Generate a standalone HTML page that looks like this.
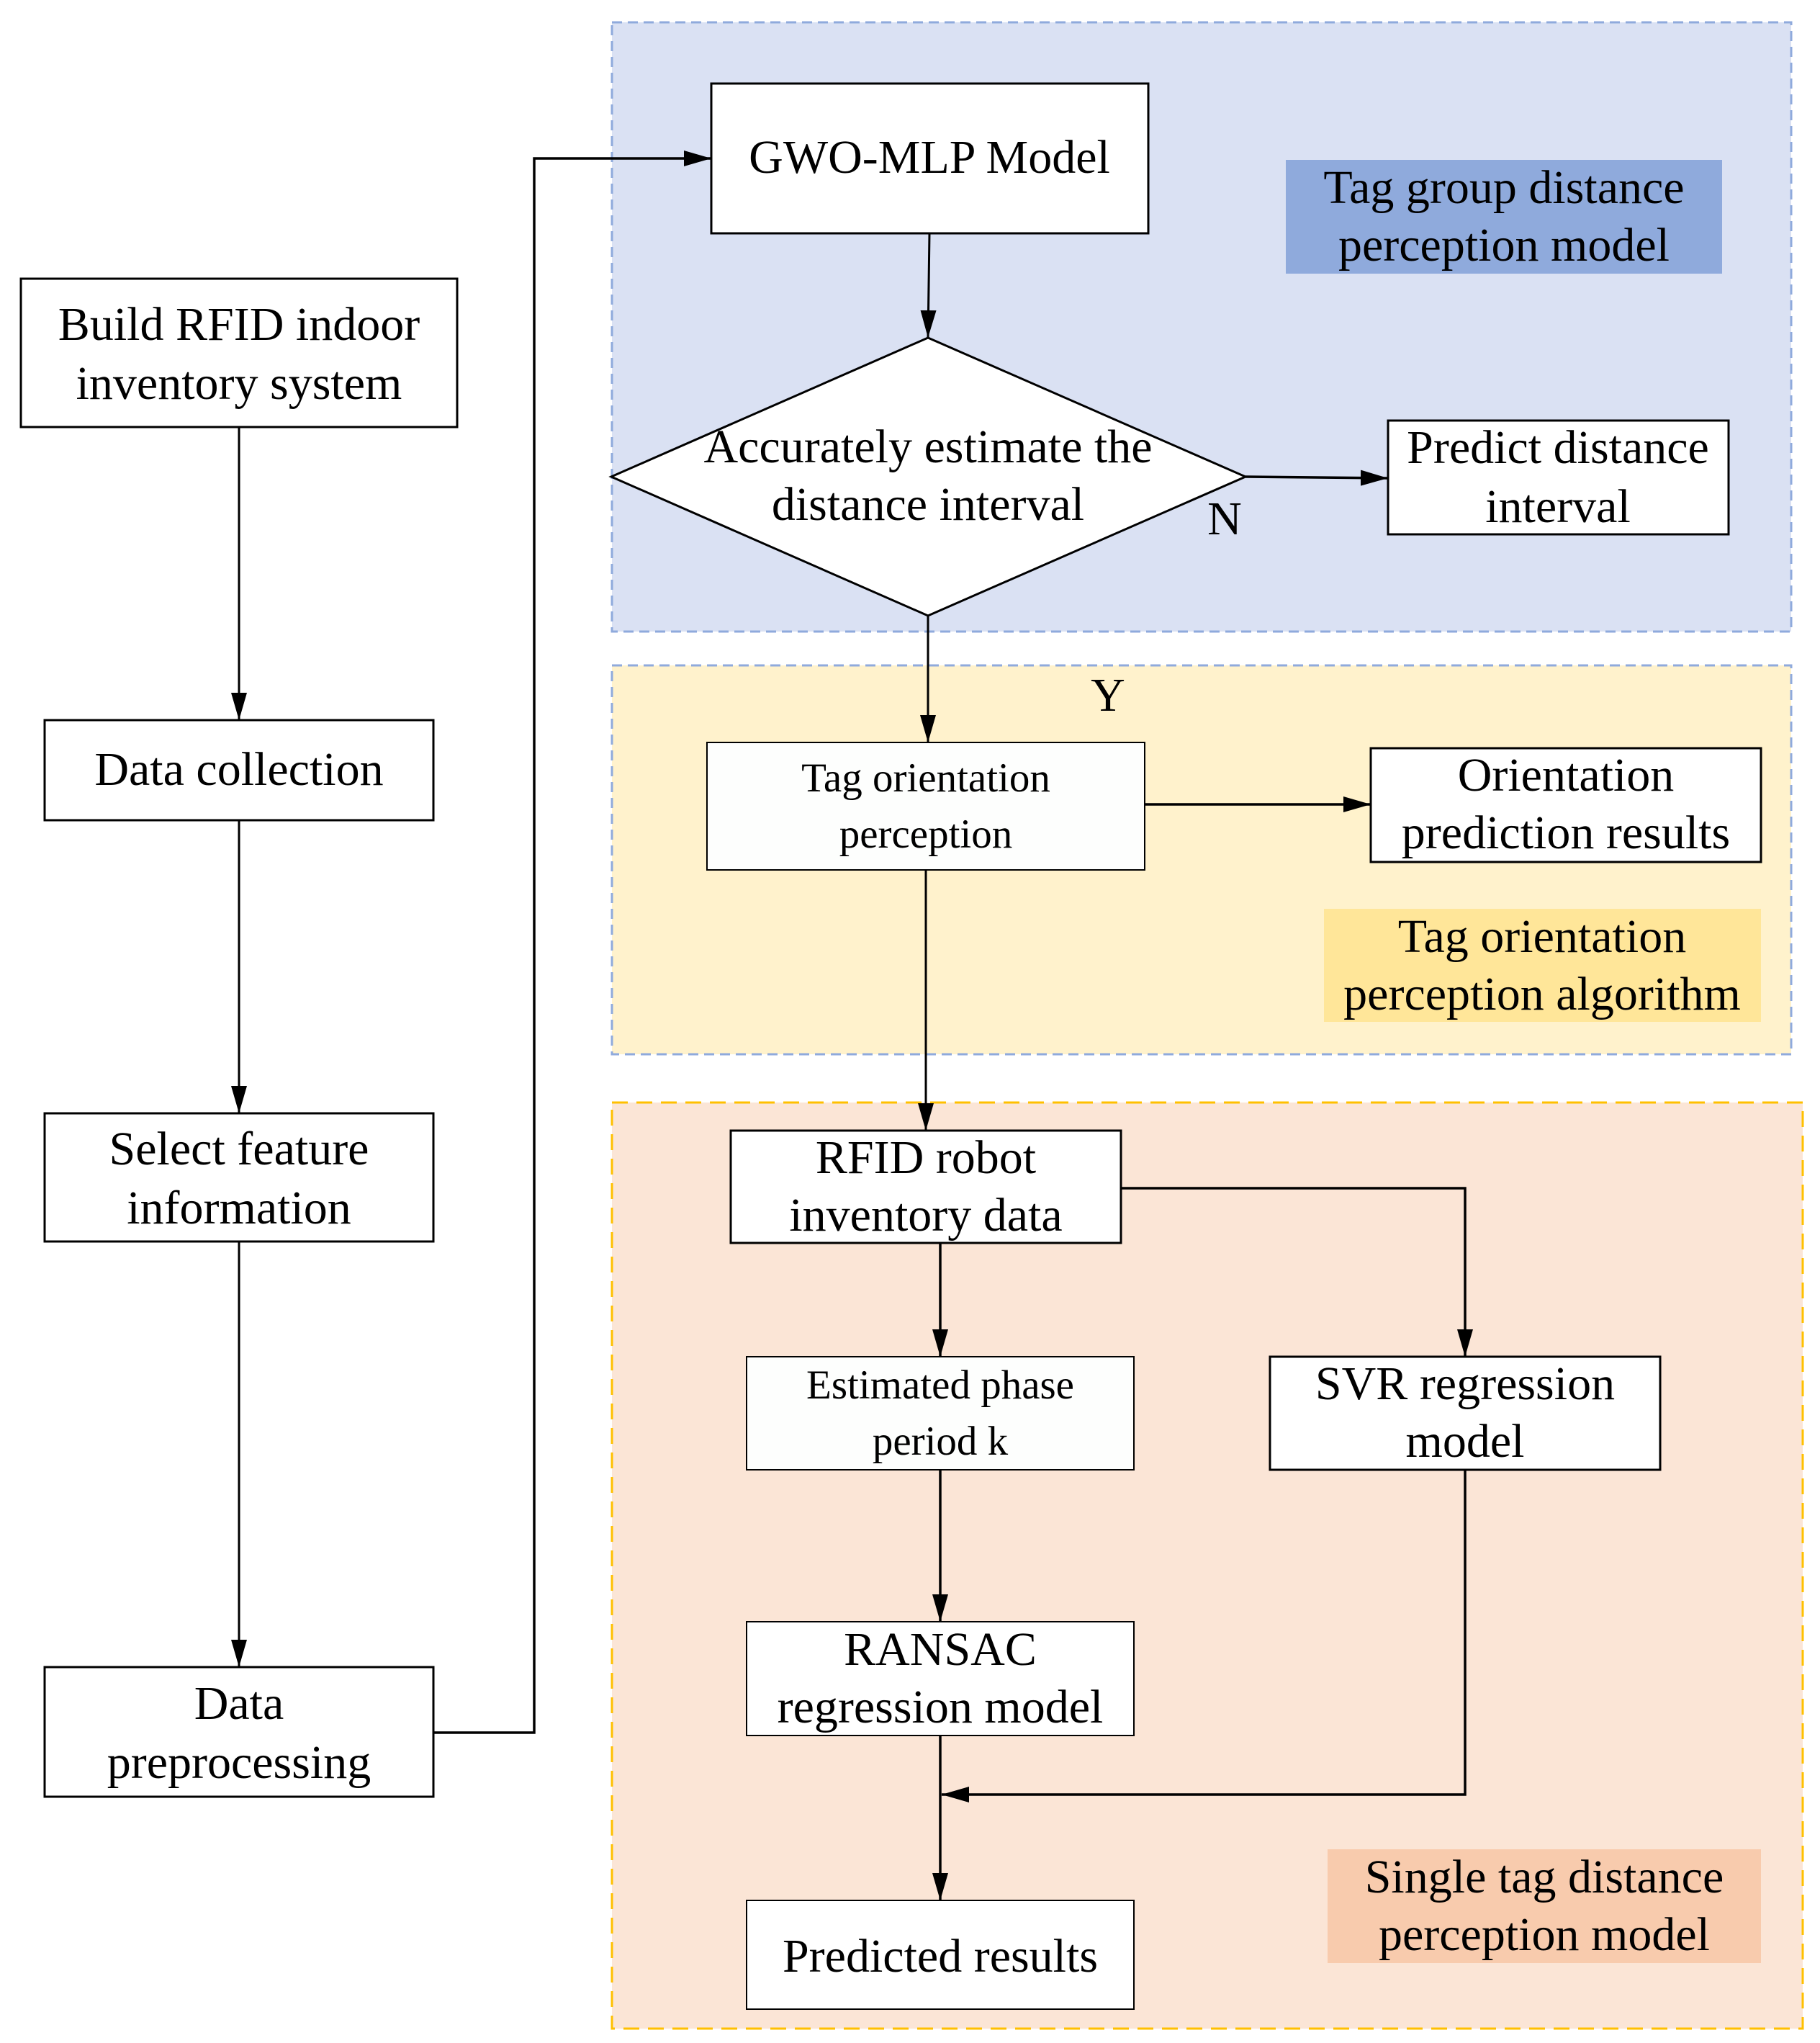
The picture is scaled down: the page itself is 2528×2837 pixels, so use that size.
<!DOCTYPE html>
<html><head><meta charset="utf-8"><style>
html,body{margin:0;padding:0;background:#fff;}
svg{display:block;}
text{font-family:"Liberation Serif","Times New Roman",serif;fill:#000;}
</style></head><body>
<svg width="2528" height="2837" viewBox="0 0 2528 2837" xmlns="http://www.w3.org/2000/svg">
<defs>
<marker id="a" markerWidth="38" markerHeight="22" refX="10" refY="5" orient="auto" markerUnits="userSpaceOnUse" viewBox="0 0 10 10" preserveAspectRatio="none">
<path d="M0,0 L10,5 L0,10 z" fill="#000"/>
</marker>
</defs>
<style>
.ln{stroke:#000;stroke-width:3.5;fill:none;}
.bx{stroke:#000;stroke-width:3;fill:#fff;}
.t{font-size:66px;text-anchor:middle;}
.s{font-size:57px;text-anchor:middle;}
</style>
<rect x="850" y="31" width="1638" height="846" fill="#dae1f3" stroke="#8faadc" stroke-width="3" stroke-dasharray="14,8"/>
<rect x="850" y="924" width="1638" height="540" fill="#fff2cc" stroke="#8faadc" stroke-width="3" stroke-dasharray="14,8"/>
<rect x="850" y="1531" width="1654" height="1286" fill="#fbe5d6" stroke="#ffc000" stroke-width="3" stroke-dasharray="22,12"/>
<rect x="1786" y="222" width="606" height="158" fill="#8faadc"/>
<text class="t" x="2089" y="282">Tag group distance</text>
<text class="t" x="2089" y="362">perception model</text>
<rect x="1839" y="1262" width="607" height="157" fill="#ffe699"/>
<text class="t" x="2142" y="1322">Tag orientation</text>
<text class="t" x="2142" y="1402">perception algorithm</text>
<rect x="1844" y="2568" width="602" height="158" fill="#f8cbad"/>
<text class="t" x="2145" y="2628">Single tag distance</text>
<text class="t" x="2145" y="2708">perception model</text>
<rect class="bx" x="29" y="387" width="606" height="206"/>
<text class="t" x="332" y="472">Build RFID indoor</text>
<text class="t" x="332" y="554">inventory system</text>
<rect class="bx" x="62" y="1000" width="540" height="139"/>
<text class="t" x="332" y="1090">Data collection</text>
<rect class="bx" x="62" y="1546" width="540" height="178"/>
<text class="t" x="332" y="1617">Select feature</text>
<text class="t" x="332" y="1699">information</text>
<rect class="bx" x="62" y="2315" width="540" height="180"/>
<text class="t" x="332" y="2387">Data</text>
<text class="t" x="332" y="2469">preprocessing</text>
<line class="ln" x1="332" y1="593" x2="332" y2="1000" marker-end="url(#a)" style="stroke-width:3"/>
<line class="ln" x1="332" y1="1139" x2="332" y2="1546" marker-end="url(#a)" style="stroke-width:3"/>
<line class="ln" x1="332" y1="1724" x2="332" y2="2315" marker-end="url(#a)" style="stroke-width:3"/>
<polyline class="ln" points="602,2406 742,2406 742,220 988,220" marker-end="url(#a)"/>
<rect class="bx" x="988" y="116" width="607" height="208"/>
<text class="t" x="1291" y="240">GWO-MLP Model</text>
<line class="ln" x1="1291" y1="324" x2="1289" y2="469" marker-end="url(#a)" style="stroke-width:3"/>
<polygon points="849,662 1289,469 1730,662 1289,855" fill="#fff" stroke="#000" stroke-width="3"/>
<text class="t" x="1289" y="642">Accurately estimate the</text>
<text class="t" x="1289" y="722">distance interval</text>
<line class="ln" x1="1730" y1="662" x2="1928" y2="664" marker-end="url(#a)"/>
<text class="t" x="1701" y="742">N</text>
<rect class="bx" x="1928" y="584" width="473" height="158"/>
<text class="t" x="2164" y="643">Predict distance</text>
<text class="t" x="2164" y="725">interval</text>
<line class="ln" x1="1289" y1="855" x2="1289" y2="1031" marker-end="url(#a)" style="stroke-width:3"/>
<text class="t" x="1539" y="987">Y</text>
<rect class="bx" x="982" y="1031" width="608" height="177" style="fill:#fdfefd;stroke-width:2"/>
<text class="s" x="1286" y="1099">Tag orientation</text>
<text class="s" x="1286" y="1177">perception</text>
<line class="ln" x1="1590" y1="1117" x2="1904" y2="1117" marker-end="url(#a)"/>
<rect class="bx" x="1904" y="1039" width="542" height="158"/>
<text class="t" x="2175" y="1098">Orientation</text>
<text class="t" x="2175" y="1178">prediction results</text>
<line class="ln" x1="1286" y1="1208" x2="1286" y2="1570" marker-end="url(#a)" style="stroke-width:3"/>
<rect class="bx" x="1015" y="1570" width="542" height="156"/>
<text class="t" x="1286" y="1629">RFID robot</text>
<text class="t" x="1286" y="1709">inventory data</text>
<polyline class="ln" points="1557,1650 2035,1650 2035,1884" marker-end="url(#a)"/>
<line class="ln" x1="1306" y1="1726" x2="1306" y2="1884" marker-end="url(#a)"/>
<rect class="bx" x="1037" y="1884" width="538" height="157" style="fill:#fdfefd;stroke-width:2"/>
<text class="s" x="1306" y="1942">Estimated phase</text>
<text class="s" x="1306" y="2020">period k</text>
<rect class="bx" x="1764" y="1884" width="542" height="157"/>
<text class="t" x="2035" y="1943">SVR regression</text>
<text class="t" x="2035" y="2023">model</text>
<line class="ln" x1="1306" y1="2041" x2="1306" y2="2252" marker-end="url(#a)"/>
<rect class="bx" x="1037" y="2252" width="538" height="158" style="stroke-width:2"/>
<text class="t" x="1306" y="2312">RANSAC</text>
<text class="t" x="1306" y="2392">regression model</text>
<polyline class="ln" points="2035,2041 2035,2492 1308,2492" marker-end="url(#a)"/>
<line class="ln" x1="1306" y1="2410" x2="1306" y2="2639" marker-end="url(#a)"/>
<rect class="bx" x="1037" y="2639" width="538" height="151" style="stroke-width:2"/>
<text class="t" x="1306" y="2738">Predicted results</text>
</svg>
</body></html>
